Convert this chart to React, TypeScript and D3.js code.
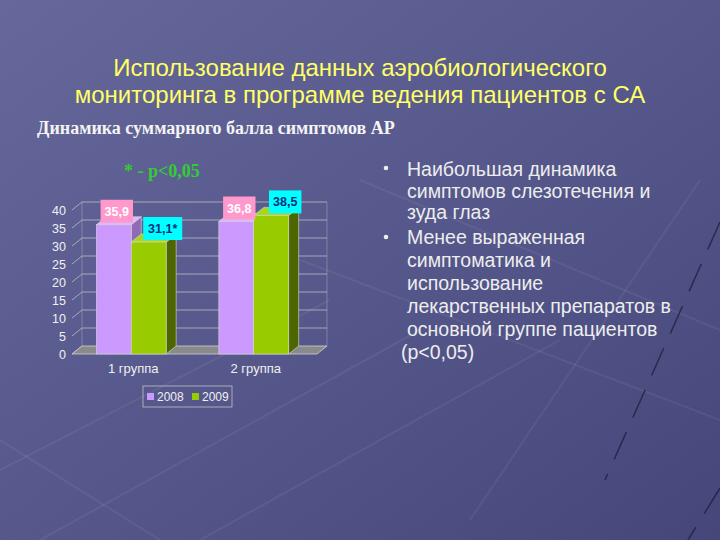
import React from 'react';
import * as d3 from 'd3';

const categories = ['1 группа', '2 группа'];
const seriesNames = ['2008', '2009'];
const values2008 = [35.9, 36.8];
const values2009 = [31.1, 38.5];
const labels2008 = ['35,9', '36,8'];
const labels2009 = ['31,1*', '38,5'];
const yTicks = [0, 5, 10, 15, 20, 25, 30, 35, 40];
const titleLines = ['Использование данных аэробиологического', 'мониторинга в программе ведения пациентов с СА'];
const subtitle = 'Динамика суммарного балла симптомов АР';
const noteText = '* - p<0,05';
const bullet1 = ['Наибольшая динамика', 'симптомов слезотечения и', 'зуда глаз'];
const bullet2 = ['Менее выраженная', 'симптоматика и', 'использование', 'лекарственных препаратов в', 'основной группе пациентов'];
const pText = '(p<0,05)';

const W = 720, H = 540;
const DX = 10, DY = -8;
const front = { left: 72, right: 317, bottom: 354, top: 210 };

const seriesStyle = [
  { front: '#cc99ff', top: '#ddb8ff', side: '#8f6bb3', labelBg: '#ff99cc', labelFg: '#ffffff', labels: labels2008, values: values2008, dxLabel: 3 },
  { front: '#99cc00', top: '#a8d61f', side: '#4d6600', labelBg: '#00ffff', labelFg: '#003080', labels: labels2009, values: values2009, dxLabel: 14 },
];

export default function App() {
  const y = d3.scaleLinear().domain([0, 40]).range([front.bottom, front.top]);
  const x0 = d3.scaleBand<string>().domain(categories).range([front.left - 2, front.right - 2]).paddingInner(0.43).paddingOuter(0.215);
  const x1 = d3.scaleBand<string>().domain(seriesNames).range([0, x0.bandwidth()]);

  const font = 'Arial, "Liberation Sans", sans-serif';
  const serif = '"Times New Roman", "Liberation Serif", serif';

  const bars: JSX.Element[] = [];
  const labels: JSX.Element[] = [];
  categories.forEach((c, ci) => {
    seriesNames.forEach((s, si) => {
      const st = seriesStyle[si];
      const v = st.values[ci];
      const xa = (x0(c) as number) + (x1(s) as number);
      const xb = xa + x1.bandwidth();
      const yt = y(v);
      const yb = y(0);
      bars.push(
        <g key={`b${ci}${si}`}>
          <polygon points={`${xb},${yt} ${xb + DX},${yt + DY} ${xb + DX},${yb + DY} ${xb},${yb}`} fill={st.side} stroke="#d8d8d8" strokeWidth={0.6} />
          <polygon points={`${xa},${yt} ${xb},${yt} ${xb + DX},${yt + DY} ${xa + DX},${yt + DY}`} fill={st.top} stroke="#d8d8d8" strokeWidth={0.6} />
          <rect x={xa} y={yt} width={xb - xa} height={yb - yt} fill={st.front} stroke="#d8d8d8" strokeWidth={0.6} />
        </g>
      );
      const txt = st.labels[ci];
      const bw = txt.length * 6.6 + 6;
      const cx = (xa + xb) / 2 + st.dxLabel;
      const by = yt - 2;
      labels.push(
        <g key={`l${ci}${si}`}>
          <rect x={cx - bw / 2} y={by - 23} width={bw} height={23} fill={st.labelBg} />
          <text x={cx} y={by - 7} textAnchor="middle" fontFamily={font} fontWeight="bold" fontSize={12.5} fill={st.labelFg}>{txt}</text>
        </g>
      );
    });
  });

  return (
    <div style={{ position: 'fixed', left: 0, top: 0, width: W, height: H }}>
      <svg width={W} height={H} viewBox={`0 0 ${W} ${H}`} style={{ display: 'block' }}>
        <defs>
          <linearGradient id="bg" x1="0" y1="0" x2="1" y2="1">
            <stop offset="0" stopColor="#66689c" />
            <stop offset="0.5" stopColor="#56588b" />
            <stop offset="1" stopColor="#45477b" />
          </linearGradient>
        </defs>
        <rect width={W} height={H} fill="url(#bg)" />
        {/* decorative background lines */}
        <g stroke="#ffffff" strokeOpacity={0.06} strokeWidth={2}>
          <line x1={0} y1={470} x2={330} y2={300} />
          <line x1={40} y1={540} x2={420} y2={330} />
          <line x1={200} y1={540} x2={560} y2={340} />
          <line x1={0} y1={440} x2={160} y2={540} />
          <line x1={300} y1={260} x2={720} y2={420} />
          <line x1={360} y1={180} x2={720} y2={330} />
          <line x1={470} y1={520} x2={700} y2={180} />
        </g>
        <g stroke="#15152e" strokeOpacity={0.65} strokeWidth={1.5} strokeDasharray="30 16">
          <line x1={720} y1={222} x2={605} y2={480} />
          <line x1={720} y1={488} x2={688} y2={540} />
        </g>

        {/* title */}
        {titleLines.map((t, i) => (
          <text key={t} x={360} y={76 + i * 27} textAnchor="middle" fontFamily={font} fontSize={24} fill="#ffff66">{t}</text>
        ))}
        <text x={37} y={134} fontFamily={serif} fontWeight="bold" fontSize={18} fill="#f4f4f4">{subtitle}</text>
        <text x={124} y={177} fontFamily={serif} fontWeight="bold" fontSize={18} fill="#33cc33">{noteText}</text>

        {/* chart back wall gridlines */}
        <g stroke="#c8c8c8" strokeWidth={0.7}>
          {yTicks.map(t => (
            <g key={t}>
              <line x1={front.left} y1={y(t)} x2={front.left + DX} y2={y(t) + DY} />
              {t > 0 && <line x1={front.left + DX} y1={y(t) + DY} x2={front.right + DX} y2={y(t) + DY} />}
            </g>
          ))}
          <line x1={front.left + DX} y1={y(0) + DY} x2={front.left + DX} y2={y(40) + DY} strokeOpacity={0.5} />
          <line x1={front.right + DX} y1={y(0) + DY} x2={front.right + DX} y2={y(40) + DY} strokeOpacity={0.5} />
        </g>
        {/* floor */}
        <polygon points={`${front.left},${y(0)} ${front.left + DX},${y(0) + DY} ${front.right + DX},${y(0) + DY} ${front.right},${y(0)}`} fill="#8a8a8a" stroke="#d0d0d0" strokeWidth={0.8} />
        {/* y tick labels */}
        {yTicks.map(t => (
          <text key={t} x={66} y={y(t) + 4.5} textAnchor="end" fontFamily={font} fontSize={12.5} fill="#f0f0f0">{t}</text>
        ))}
        {bars}
        {labels}
        {/* category labels */}
        {categories.map(c => (
          <text key={c} x={(x0(c) as number) + x0.bandwidth() / 2 + 2} y={373} textAnchor="middle" fontFamily={font} fontSize={13} fill="#f0f0f0">{c}</text>
        ))}
        {/* legend */}
        <rect x={143} y={386} width={89} height={21} fill="none" stroke="#c0c0c0" strokeWidth={0.8} />
        {seriesNames.map((s, i) => (
          <g key={s}>
            <rect x={147 + i * 45} y={393} width={7} height={7} fill={seriesStyle[i].front} />
            <text x={157 + i * 45} y={401} fontFamily={font} fontSize={12} fill="#f0f0f0">{s}</text>
          </g>
        ))}

        {/* bullets */}
        <g fontFamily={font} fontSize={19.5} fill="#ededed">
          <circle cx={386} cy={168} r={2.3} />
          {bullet1.map((t, i) => <text key={t} x={407} y={176 + i * 21.5}>{t}</text>)}
          <circle cx={386} cy={237} r={2.3} />
          {bullet2.map((t, i) => <text key={t} x={407} y={244 + i * 23}>{t}</text>)}
          <text x={401} y={359}>{pText}</text>
        </g>
      </svg>
    </div>
  );
}
